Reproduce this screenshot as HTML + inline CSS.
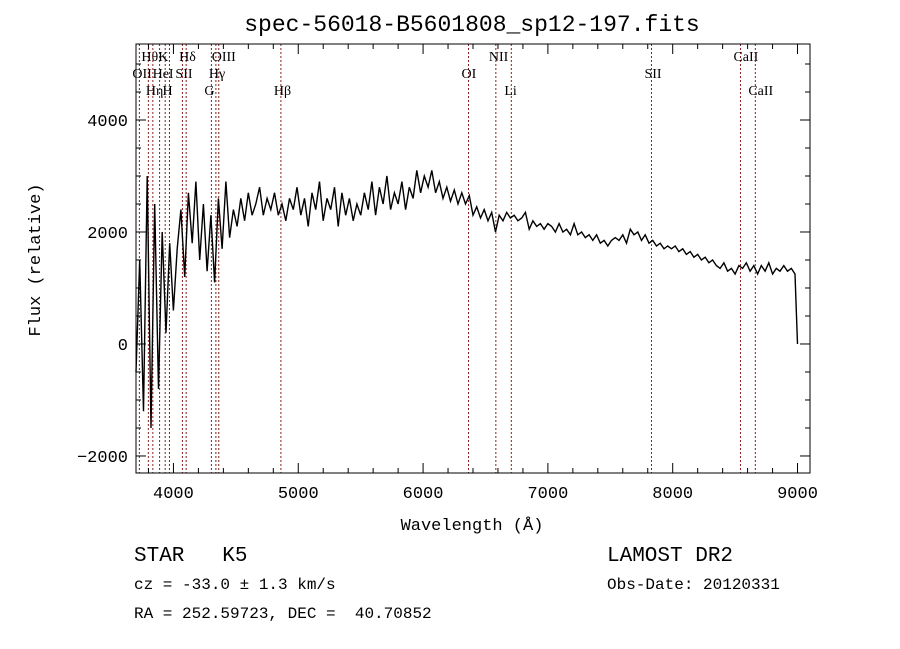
<!DOCTYPE html>
<html><head><meta charset="utf-8"><style>
body{margin:0;background:#fff;}
svg{display:block;font-family:"Liberation Mono",monospace;}
svg text{white-space:pre;}
.lbl{font-family:"Liberation Serif",serif;font-size:14px;}
</style></head><body>
<svg id="c" width="900" height="649" xmlns="http://www.w3.org/2000/svg">
<rect width="900" height="649" fill="#fff"/>
<text x="472" y="31" text-anchor="middle" font-size="23">spec-56018-B5601808_sp12-197.fits</text>
<text x="472" y="530" text-anchor="middle" font-size="17">Wavelength (Å)</text>
<text transform="translate(40,260) rotate(-90)" text-anchor="middle" font-size="17">Flux (relative)</text>
<text x="134" y="561" font-size="21" xml:space="preserve">STAR   K5</text>
<text x="134" y="589" font-size="16">cz = -33.0 ± 1.3 km/s</text>
<text x="134" y="618" font-size="16" xml:space="preserve">RA = 252.59723, DEC =  40.70852</text>
<text x="607" y="561" font-size="21">LAMOST DR2</text>
<text x="607" y="589" font-size="16">Obs-Date: 20120331</text>
<g id="plot"></g>
</svg>
<script>
const wStart = 3700, wStep = 30;
const flux = [-500,1500,-1200,3000,-1500,2500,-800,2000,200,1800,600,1700,2400,1200,
2700,1800,2900,1500,2500,1300,2300,1100,2600,1700,2900,1900,2400,2100,2600,2200,2700,2300,2500,2800,2300,2600,2400,2700,2300,2500,2200,2600,2400,2800,2300,2600,2100,2700,2400,2900,2200,2600,2400,2800,2100,2700,2300,2600,2200,2500,2300,2700,2400,2900,2300,2800,2500,3000,2400,2700,2500,2900,2400,2800,2600,3100,2700,3000,2800,3100,2700,2900,2600,2800,2550,2750,2500,2700,2500,2650,2300,2450,2250,2400,2200,2350,2000,2300,2200,2350,2250,2300,2200,2250,2350,2050,2200,2100,2150,2050,2150,2100,2000,2150,2000,2050,1950,2150,1950,2000,1900,1950,1850,1950,1800,1850,1750,1850,1900,1850,1950,1800,2050,1950,2000,1850,1950,1800,1850,1750,1800,1700,1750,1700,1750,1650,1700,1600,1650,1550,1600,1500,1550,1450,1500,1400,1350,1450,1300,1350,1250,1400,1350,1450,1300,1400,1250,1400,1300,1450,1250,1350,1300,1400,1300,1350,1250,0];
const lineWaves = [3727,3799,3835,3889,3934,3968,4072,4102,4304,4340,4363,4861,6364,6583,6707,7830,8543,8662];
const lineNames = ["OII","Hθ","Hη","HeI","K","H","SII","Hδ","G","Hγ","OIII","Hβ","OI","NII","Li","SII","CaII","CaII"];
const lineRows = [2,1,3,2,1,3,2,1,3,2,1,3,2,1,3,2,1,3];
const xTicks = [4000,5000,6000,7000,8000,9000];
const yTicks = [-2000,0,2000,4000];

const X0=136,X1=810,Y0=44,Y1=473, wMin=3700, wMax=9100, fMin=-2304, fMax=5357;
const sx = w => X0+(w-wMin)/(wMax-wMin)*(X1-X0);
const sy = f => Y1-(f-fMin)/(fMax-fMin)*(Y1-Y0);
const NS="http://www.w3.org/2000/svg", g=document.getElementById('plot');
function mk(t,a){const e=document.createElementNS(NS,t);for(const k in a)e.setAttribute(k,a[k]);g.appendChild(e);return e;}

lineWaves.forEach((w,i)=>{
  const l=mk('line',{x1:sx(w),x2:sx(w),y1:Y0,y2:Y1,stroke:'#8b2020','stroke-width':1,'stroke-dasharray':'2,2'});
  
  
  const t=mk('text',{x:sx(w)-7,y:Y0+17+(lineRows[i]-1)*17,class:'lbl'});
  t.textContent=lineNames[i];
  
  
});

let d='';
flux.forEach((f,i)=>{const w=wStart+i*wStep;d+=(i?'L':'M')+sx(Math.min(w,9000)).toFixed(1)+','+sy(f).toFixed(1);});
const p=mk('path',{d:d,fill:'none',stroke:'#000','stroke-width':1.4});



const fr=mk('rect',{x:X0,y:Y0,width:X1-X0,height:Y1-Y0,fill:'none',stroke:'#000','stroke-width':1});



for(let w=3800;w<=9100;w+=200){const maj=w%1000===0,L=maj?10:5;
  mk('line',{x1:sx(w),x2:sx(w),y1:Y1,y2:Y1-L,stroke:'#000'});
  mk('line',{x1:sx(w),x2:sx(w),y1:Y0,y2:Y0+L,stroke:'#000'});}
for(let f=-2000;f<=5000;f+=500){const maj=f%2000===0,L=maj?10:5;
  mk('line',{x1:X0,x2:X0+L,y1:sy(f),y2:sy(f),stroke:'#000'});
  mk('line',{x1:X1,x2:X1-L,y1:sy(f),y2:sy(f),stroke:'#000'});}
xTicks.forEach(v=>{const t=mk('text',{x:sx(v),y:Y1+25,'text-anchor':'middle','font-size':17});t.textContent=v;
  
  });
yTicks.forEach(v=>{const t=mk('text',{x:X0-8,y:sy(v)+6,'text-anchor':'end','font-size':17});t.textContent=v<0?'−'+(-v):v;
  
  });
</script>
</body></html>
